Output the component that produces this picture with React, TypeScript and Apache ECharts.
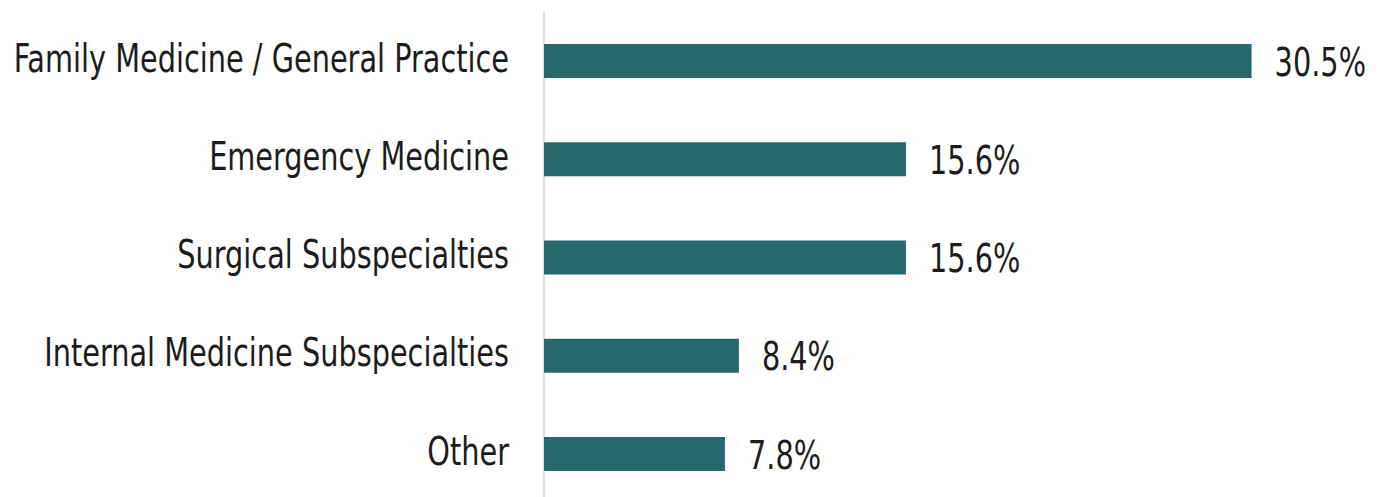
import React, { useEffect, useRef } from "react";
import * as echarts from "echarts";

const categories = [
  "Family Medicine / General Practice",
  "Emergency Medicine",
  "Surgical Subspecialties",
  "Internal Medicine Subspecialties",
  "Other",
];
const values = [30.5, 15.6, 15.6, 8.4, 7.8];

const FONT_FAMILY = '"DejaVu Sans Condensed", "DejaVu Sans", sans-serif';
const FONT_SIZE = 39;
const TEXT_SCALE_X = 0.82;
const TEXT_COLOR = "#1c1c1c";
const GRID_LEFT = 544;

export default function App() {
  const ref = useRef<HTMLDivElement>(null);
  useEffect(() => {
    if (!ref.current) return;
    const chart = echarts.init(ref.current, null, { renderer: "svg" });
    chart.setOption({
      animation: false,
      backgroundColor: "#ffffff",
      grid: {
        left: GRID_LEFT,
        top: 12,
        width: 812,
        height: 491,
        containLabel: false,
        outerBoundsMode: "none",
      },
      xAxis: {
        type: "value",
        min: 0,
        max: 35,
        show: false,
        splitLine: { show: false },
      },
      yAxis: {
        type: "category",
        inverse: true,
        data: categories,
        axisLine: { show: true, lineStyle: { color: "#d9d9d9", width: 1.5 } },
        axisTick: { show: false },
        axisLabel: { show: false },
      },
      series: [
        {
          type: "bar",
          data: values,
          barWidth: 34,
          itemStyle: { color: "#27686c" },
        },
      ],
    });

    const font = `${FONT_SIZE}px ${FONT_FAMILY}`;
    const elements: any[] = [];
    categories.forEach((cat, i) => {
      const cy = chart.convertToPixel({ yAxisIndex: 0 }, cat) as number;
      const xEnd = chart.convertToPixel({ xAxisIndex: 0 }, values[i]) as number;
      elements.push({
        type: "text",
        x: GRID_LEFT - 35,
        y: cy - 3,
        scaleX: TEXT_SCALE_X,
        style: {
          text: cat,
          font,
          fill: TEXT_COLOR,
          align: "right",
          verticalAlign: "middle",
          textAlign: "right",
          textVerticalAlign: "middle",
        },
      });
      elements.push({
        type: "text",
        x: xEnd + 23,
        y: cy + 1,
        scaleX: TEXT_SCALE_X,
        style: {
          text: values[i].toFixed(1) + "%",
          font,
          fill: TEXT_COLOR,
          align: "left",
          verticalAlign: "middle",
          textAlign: "left",
          textVerticalAlign: "middle",
        },
      });
    });
    chart.setOption({ graphic: { elements } });

    return () => chart.dispose();
  }, []);
  return (
    <div
      ref={ref}
      style={{ position: "fixed", left: 0, top: 0, width: 1380, height: 497 }}
    />
  );
}
